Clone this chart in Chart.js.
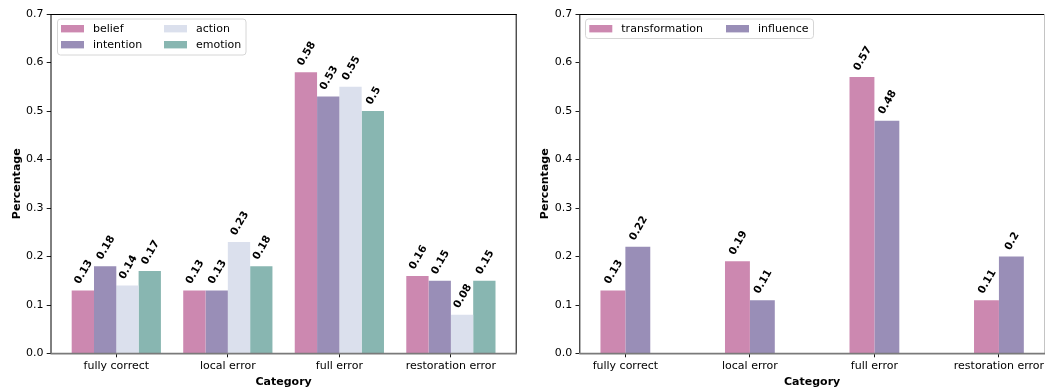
<!DOCTYPE html>
<html><head><meta charset="utf-8">
<script src="https://cdn.jsdelivr.net/npm/chart.js@4.4.0/dist/chart.umd.min.js"></script>
<style>
html,body{margin:0;padding:0;background:#fff;width:1045px;height:387px;overflow:hidden}
.w{position:absolute;top:0;height:387px}
</style></head><body>
<div class="w" style="left:0;width:530px"><canvas id="c1"></canvas></div>
<div class="w" style="left:530px;width:515px"><canvas id="c2"></canvas></div>
<script>
// ---- data ----
const categories = ['fully correct', 'local error', 'full error', 'restoration error'];
const belief = [0.13, 0.13, 0.58, 0.16];
const intention = [0.18, 0.13, 0.53, 0.15];
const action = [0.14, 0.23, 0.55, 0.08];
const emotion = [0.17, 0.18, 0.5, 0.15];
const transformation = [0.13, 0.19, 0.57, 0.11];
const influence = [0.22, 0.11, 0.48, 0.2];
const yTicks = [0, 0.1, 0.2, 0.3, 0.4, 0.5, 0.6, 0.7];
const xTitle = 'Category';
const yTitle = 'Percentage';

const COLORS = {
  belief: '#CC88B0', intention: '#998EB7', action: '#DBE0ED', emotion: '#88B6B1',
  transformation: '#CC88B0', influence: '#998EB7'
};

Chart.defaults.font.family = "'DejaVu Sans', sans-serif";
Chart.defaults.color = '#000';

const FONT = "'DejaVu Sans', sans-serif";

const decor = {
  id: 'decor',
  afterDatasetsDraw(chart, args, o) {
    const ctx = chart.ctx, ca = chart.chartArea;
    ctx.save();
    // value labels
    const fs = 10.5;
    ctx.font = 'bold ' + fs + 'px ' + FONT;
    ctx.fillStyle = '#000';
    const th = 60 * Math.PI / 180;
    chart.data.datasets.forEach((ds, di) => {
      const meta = chart.getDatasetMeta(di);
      meta.data.forEach((el, i) => {
        const txt = String(ds.data[i].y);
        const w = ctx.measureText(txt).width;
        const H = w * Math.sin(th) + fs * Math.cos(th);
        ctx.save();
        ctx.translate(el.x + 0.8, el.y - 4.6 - H / 2);
        ctx.rotate(-th);
        ctx.textAlign = 'center';
        ctx.textBaseline = 'middle';
        ctx.fillText(txt, 0, 0);
        ctx.restore();
      });
    });
    // spines
    ctx.strokeStyle = '#000';
    ctx.lineWidth = 1;
    ctx.beginPath();
    ctx.moveTo(ca.left, ca.top + 0.5); ctx.lineTo(ca.right, ca.top + 0.5);
    ctx.moveTo(ca.left + 0.5, ca.top); ctx.lineTo(ca.left + 0.5, ca.bottom);
    ctx.stroke();
    ctx.strokeStyle = o.rightColor;
    ctx.beginPath();
    ctx.moveTo(ca.right - 0.5, ca.top); ctx.lineTo(ca.right - 0.5, ca.bottom);
    ctx.stroke();
    ctx.strokeStyle = '#7a7a7a';
    ctx.lineWidth = 1.8;
    ctx.beginPath();
    ctx.moveTo(ca.left, ca.bottom + 0.1); ctx.lineTo(ca.right, ca.bottom + 0.1);
    ctx.stroke();
    ctx.restore();
  },
  afterDraw(chart, args, o) {
    const ctx = chart.ctx, ca = chart.chartArea;
    ctx.save();
    // axis titles
    ctx.fillStyle = '#000';
    ctx.font = 'bold 11px ' + FONT;
    ctx.textAlign = 'center';
    ctx.textBaseline = 'alphabetic';
    ctx.fillText(xTitle, (ca.left + ca.right) / 2, 385);
    ctx.save();
    ctx.translate(ca.left - 31, (ca.top + ca.bottom) / 2);
    ctx.rotate(-Math.PI / 2);
    ctx.fillText(yTitle, 0, 0);
    ctx.restore();
    // legend
    const L = o.legend;
    const r = 3;
    const b = L.box;
    ctx.beginPath();
    ctx.moveTo(b.x + r, b.y);
    ctx.lineTo(b.x + b.w - r, b.y);
    ctx.arcTo(b.x + b.w, b.y, b.x + b.w, b.y + r, r);
    ctx.lineTo(b.x + b.w, b.y + b.h - r);
    ctx.arcTo(b.x + b.w, b.y + b.h, b.x + b.w - r, b.y + b.h, r);
    ctx.lineTo(b.x + r, b.y + b.h);
    ctx.arcTo(b.x, b.y + b.h, b.x, b.y + b.h - r, r);
    ctx.lineTo(b.x, b.y + r);
    ctx.arcTo(b.x, b.y, b.x + r, b.y, r);
    ctx.closePath();
    ctx.fillStyle = 'rgba(255,255,255,0.8)';
    ctx.fill();
    ctx.strokeStyle = '#d6d6d6';
    ctx.lineWidth = 1;
    ctx.stroke();
    ctx.font = '11px ' + FONT;
    ctx.textAlign = 'left';
    chart.data.datasets.forEach((ds, di) => {
      const col = Math.floor(di / L.rows.length), row = di % L.rows.length;
      const px = L.cols[col], py = L.rows[row];
      ctx.fillStyle = ds.backgroundColor;
      ctx.fillRect(px, py, 23, 7.4);
      ctx.fillStyle = '#000';
      ctx.fillText(ds.label, px + 32, py + 7.4);
    });
    ctx.restore();
  }
};

function makeChart(id, names, series, cfg) {
  return new Chart(document.getElementById(id), {
    type: 'bar',
    data: {
      datasets: names.map((n, k) => ({
        label: n,
        data: series[k].map((v, i) => ({ x: i, y: v })),
        backgroundColor: COLORS[n],
        borderWidth: 0,
        categoryPercentage: cfg.catPct,
        barPercentage: 1
      }))
    },
    options: {
      responsive: true,
      maintainAspectRatio: false,
      animation: false,
      devicePixelRatio: 1,
      layout: { padding: { top: 14, right: cfg.padRight, left: 0, bottom: 0 } },
      plugins: {
        legend: { display: false },
        tooltip: { enabled: false },
        decor: { legend: cfg.legend, rightColor: cfg.rightColor }
      },
      scales: {
        x: {
          type: 'linear',
          min: cfg.xmin, max: cfg.xmax,
          offset: false,
          afterBuildTicks: s => { s.ticks = categories.map((c, i) => ({ value: i })); },
          afterFit: s => { s.height = 33.5; s.paddingLeft = 0; s.paddingRight = 0; },
          ticks: {
            callback: v => categories[v],
            font: { size: 11 }, color: '#000', padding: 2.5,
            maxRotation: 0, minRotation: 0, autoSkip: false
          },
          grid: { offset: false, drawOnChartArea: false, drawTicks: true, tickLength: 3.8, color: '#000', lineWidth: 0.9 },
          border: { display: false }
        },
        y: {
          type: 'linear',
          min: 0, max: 0.7,
          afterBuildTicks: s => { s.ticks = yTicks.map(v => ({ value: v })); },
          afterFit: s => { s.width = cfg.yWidth; s.paddingTop = 0; s.paddingBottom = 0; },
          ticks: {
            callback: v => v.toFixed(1),
            font: { size: 11 }, color: '#000', padding: 3.3
          },
          grid: { drawOnChartArea: false, drawTicks: true, tickLength: 3.8, color: '#000', lineWidth: 0.9 },
          border: { display: false }
        }
      }
    },
    plugins: [decor]
  });
}

makeChart('c1', ['belief', 'intention', 'action', 'emotion'], [belief, intention, action, emotion], {
  catPct: 0.8, xmin: -0.59, xmax: 3.59, yWidth: 50.5, padRight: 13.3, rightColor: '#000',
  legend: { box: { x: 57.5, y: 19, w: 188.5, h: 36 }, cols: [61, 164], rows: [25, 41] }
});
makeChart('c2', ['transformation', 'influence'], [transformation, influence], {
  catPct: 0.4, xmin: -0.37, xmax: 3.37, yWidth: 49.3, padRight: 0, rightColor: '#c4c4c4',
  legend: { box: { x: 55.5, y: 19, w: 228, h: 19.5 }, cols: [59.3, 196], rows: [25] }
});
</script>
</body></html>
